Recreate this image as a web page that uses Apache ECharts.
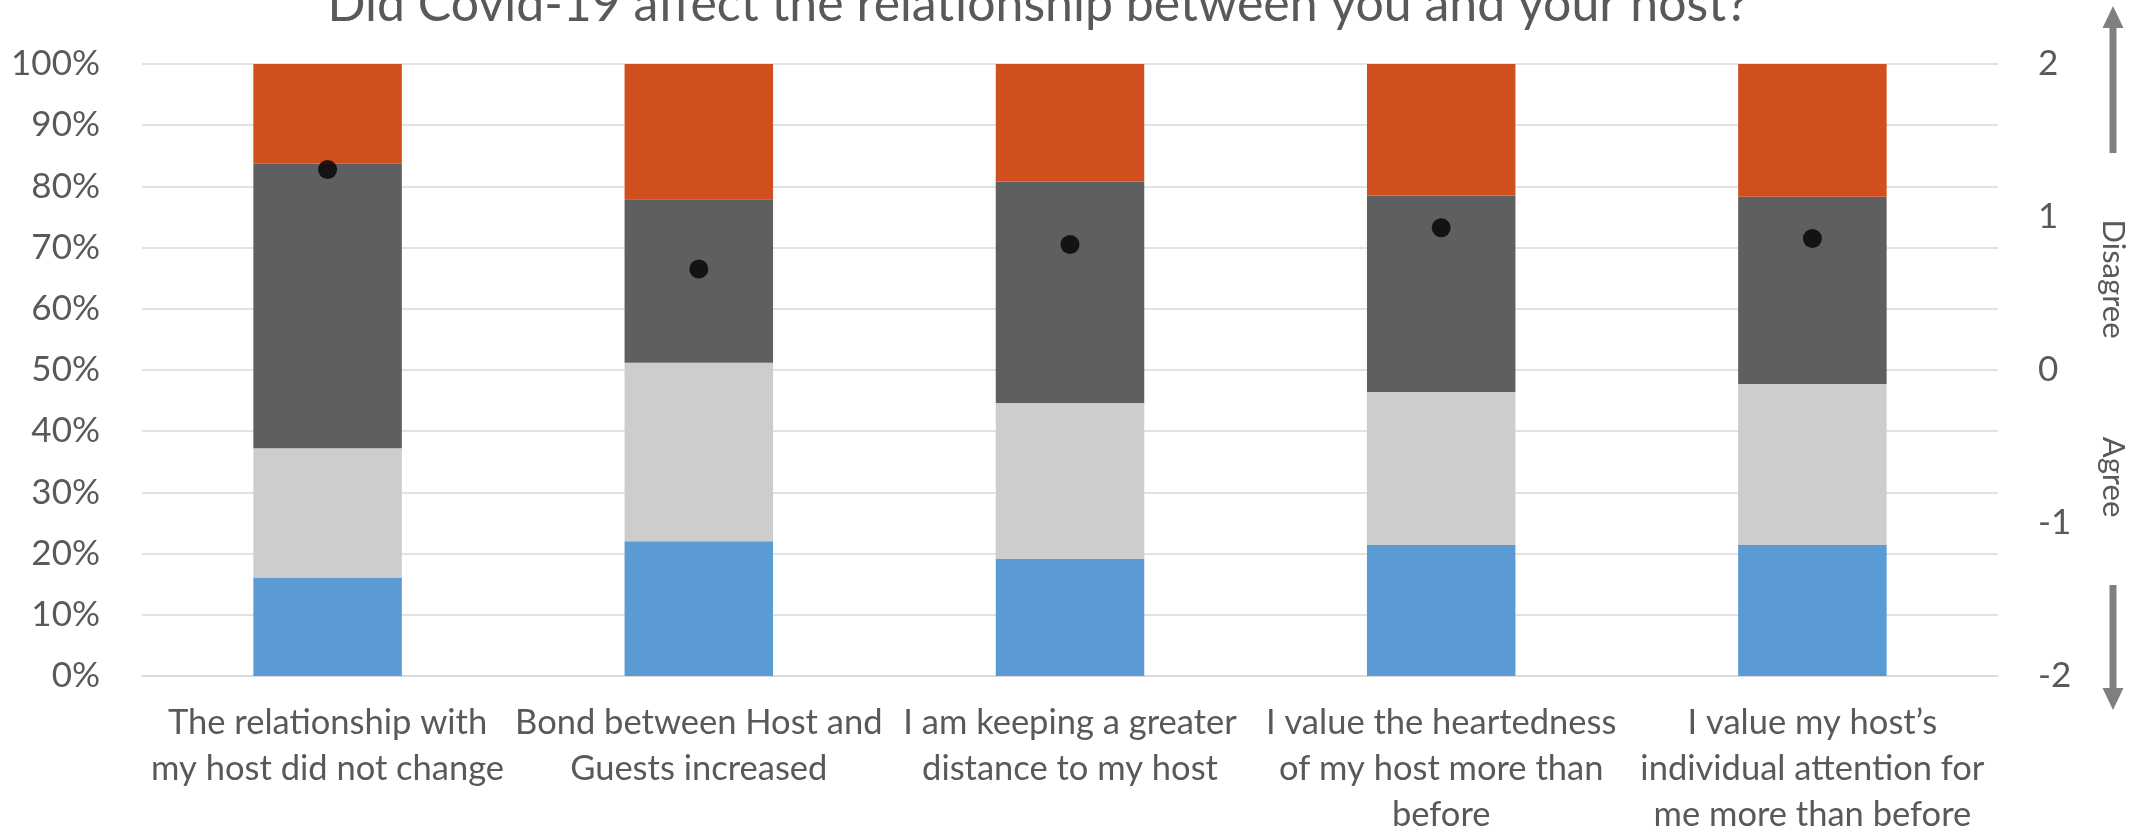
<!DOCTYPE html>
<html>
<head>
<meta charset="utf-8">
<script src="https://cdn.jsdelivr.net/npm/echarts@6/dist/echarts.min.js"></script>
<style>
  html, body { margin: 0; padding: 0; background: #fff; }
  #chart { width: 2145px; height: 830px; }
</style>
</head>
<body>
<div id="chart"></div>
<script>
// Statement categories (one entry per line of the wrapped label)
const categories = [
  ['The relationship with', 'my host did not change'],
  ['Bond between Host and', 'Guests increased'],
  ['I am keeping a greater', 'distance to my host'],
  ['I value the heartedness', 'of my host more than', 'before'],
  ['I value my host\u2019s', 'individual attention for', 'me more than before']
];

// Share of answers per level, in percent (bottom to top of each stack)
const levelBlue   = [16.1, 22.0, 19.1, 21.4, 21.4];
const levelLight  = [21.1, 29.2, 25.5, 25.0, 26.3];
const levelDark   = [46.5, 26.7, 36.2, 32.1, 30.6];
const levelOrange = [16.3, 22.1, 19.2, 21.5, 21.7];

// Mean score on the -2 (agree) .. 2 (disagree) scale
const meanScore = [1.31, 0.66, 0.82, 0.93, 0.86];

const titleText = 'Did Covid-19 affect the relationship between you and your host?';
const textColor = '#595959';
const fontFamily = 'Lato, "Liberation Sans", sans-serif';

const chart = echarts.init(document.getElementById('chart'), null, { renderer: 'canvas' });

const catNames = categories.map(lines => lines.join('\n'));

function stackSeries(name, data, color) {
  return {
    name: name,
    type: 'bar',
    stack: 'share',
    data: data,
    barWidth: '40%',
    itemStyle: { color: color },
    emphasis: { disabled: true }
  };
}

const option = {
  animation: false,
  backgroundColor: '#ffffff',
  title: {
    text: titleText,
    left: 1033,
    textAlign: 'center',
    top: -25,
    textStyle: { fontFamily: fontFamily, fontSize: 50, fontWeight: 'normal', color: textColor }
  },
  grid: { left: 142, right: 147, top: 64, bottom: 154, outerBoundsMode: 'none', containLabel: false },
  xAxis: {
    type: 'category',
    data: catNames,
    axisLine: { show: true, lineStyle: { color: '#D9D9D9', width: 1.5 } },
    axisTick: { show: false },
    axisLabel: {
      interval: 0,
      margin: 24,
      color: textColor,
      fontFamily: fontFamily,
      fontSize: 34.5,
      lineHeight: 46
    }
  },
  yAxis: [
    {
      type: 'value',
      min: 0, max: 100, interval: 10,
      axisLine: { show: false },
      axisTick: { show: false },
      axisLabel: {
        formatter: '{value}%',
        margin: 42,
        color: textColor,
        fontFamily: fontFamily,
        fontSize: 35
      },
      splitLine: { lineStyle: { color: '#D9D9D9', width: 1.5 } }
    },
    {
      type: 'value',
      min: -2, max: 2, interval: 1,
      position: 'right',
      axisLine: { show: false },
      axisTick: { show: false },
      splitLine: { show: false },
      axisLabel: {
        margin: 40,
        color: textColor,
        fontFamily: fontFamily,
        fontSize: 35
      }
    }
  ],
  series: [
    stackSeries('Level 1', levelBlue, '#5B9BD5'),
    stackSeries('Level 2', levelLight, '#CCCDCC'),
    stackSeries('Level 3', levelDark, '#5F5F5F'),
    stackSeries('Level 4', levelOrange, '#D14F1F'),
    {
      name: 'Mean',
      type: 'scatter',
      yAxisIndex: 1,
      data: meanScore,
      symbol: 'circle',
      symbolSize: 19,
      itemStyle: { color: '#000000' },
      z: 5
    }
  ],
  graphic: [
    // upward arrow (towards disagree)
    { type: 'rect', shape: { x: 2109.5, y: 26, width: 7, height: 127 }, style: { fill: '#7F7F7F' } },
    { type: 'polygon', shape: { points: [[2113, 6], [2102.5, 28], [2123.5, 28]] }, style: { fill: '#7F7F7F' } },
    // downward arrow (towards agree)
    { type: 'rect', shape: { x: 2109.5, y: 585, width: 7, height: 104 }, style: { fill: '#7F7F7F' } },
    { type: 'polygon', shape: { points: [[2113, 710], [2102.5, 688], [2123.5, 688]] }, style: { fill: '#7F7F7F' } },
    {
      type: 'text', x: 2113, y: 279, rotation: -Math.PI / 2,
      style: { text: 'Disagree', fill: textColor, font: '31px ' + fontFamily, align: 'center', verticalAlign: 'middle' }
    },
    {
      type: 'text', x: 2113, y: 477, rotation: -Math.PI / 2,
      style: { text: 'Agree', fill: textColor, font: '31px ' + fontFamily, align: 'center', verticalAlign: 'middle' }
    }
  ]
};

chart.setOption(option);
</script>
</body>
</html>
